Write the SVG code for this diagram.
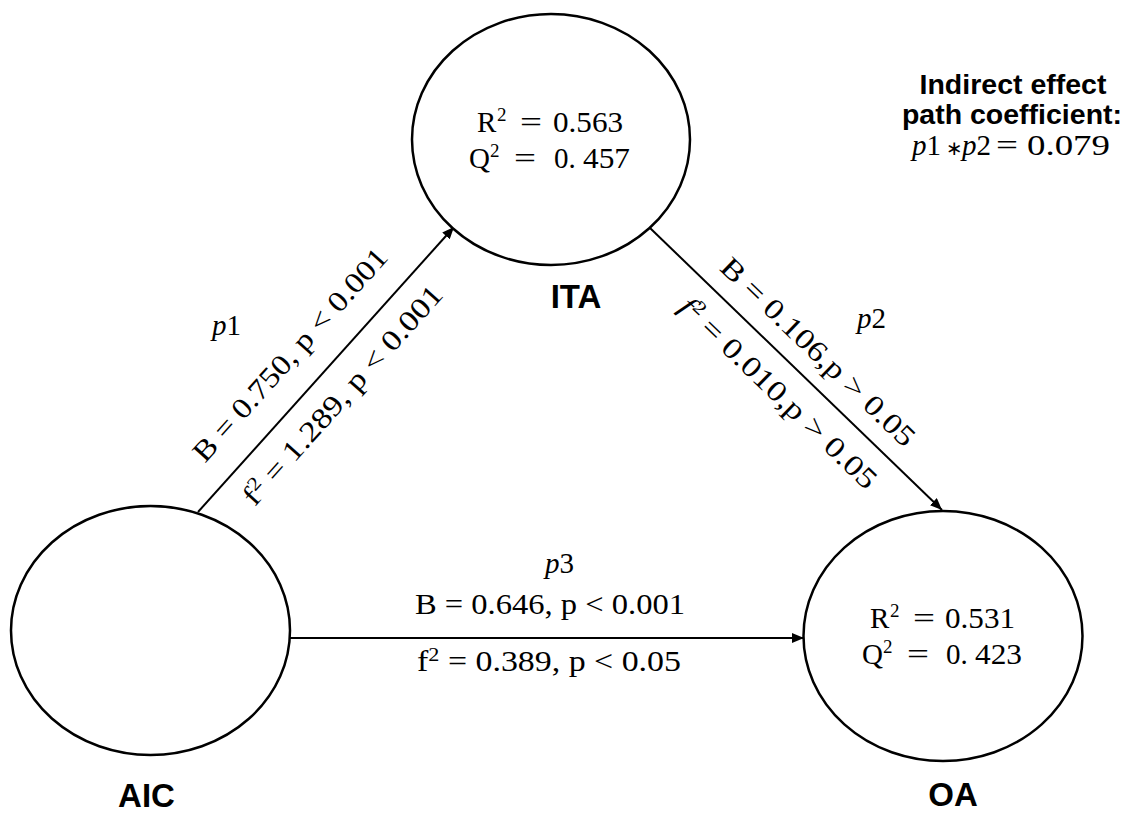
<svg xmlns="http://www.w3.org/2000/svg" width="1125" height="814" viewBox="0 0 1125 814">
<style>
.node{fill:#fff;stroke:#000;stroke-width:2.5}
.lbl{font-family:"Liberation Sans",Arial,sans-serif;font-weight:bold;font-size:33px;fill:#000;text-anchor:middle}
.hd{font-family:"Liberation Sans",Arial,sans-serif;font-weight:bold;font-size:28.5px;fill:#000;text-anchor:middle}
.m{font-family:"Liberation Serif","Times New Roman",serif;font-size:29px;fill:#000;text-anchor:middle}
.s{font-family:"Liberation Serif","Times New Roman",serif;font-size:29px;fill:#000}
.it{font-style:italic}
.sup{font-size:19px}
.conn{stroke:#000;stroke-width:2;fill:none;marker-end:url(#arr)}
</style>
<defs>
<marker id="arr" markerUnits="userSpaceOnUse" markerWidth="14" markerHeight="10" refX="12" refY="5" orient="auto">
<path d="M0,0 L12,5 L0,10 z" fill="#000"/>
</marker>
</defs>
<rect width="1125" height="814" fill="#fff"/>
<g id="connectors">
<line class="conn" x1="198" y1="512" x2="454" y2="227"/>
<line class="conn" x1="650" y1="228" x2="942" y2="510"/>
<line class="conn" x1="290" y1="638" x2="804" y2="638"/>
<g transform="translate(326,369.5) rotate(-48.07)">
<text class="m" x="-13" y="-27" textLength="276" lengthAdjust="spacingAndGlyphs">B = 0.750, p &lt; 0.001</text>
<text class="m" x="-8" y="39" textLength="284" lengthAdjust="spacingAndGlyphs">f<tspan class="sup" dy="-10">2</tspan><tspan dy="10"> = 1.289, p &lt; 0.001</tspan></text>
</g>
<text class="s" x="212" y="335"><tspan class="it">p</tspan>1</text>
<g transform="translate(796,369) rotate(43.99)">
<text class="m" x="4" y="-18" textLength="258" lengthAdjust="spacingAndGlyphs">B = 0.106,p &gt; 0.05</text>
<text class="m" x="4" y="39" textLength="262" lengthAdjust="spacingAndGlyphs"><tspan class="it">f</tspan><tspan class="sup" dy="-10">2</tspan><tspan dy="10"> = 0.010,p &gt; 0.05</tspan></text>
</g>
<text class="s" x="857" y="328"><tspan class="it">p</tspan>2</text>
<text class="s" x="545" y="573"><tspan class="it">p</tspan>3</text>
<text class="m" x="550" y="614" textLength="270" lengthAdjust="spacingAndGlyphs">B = 0.646, p &lt; 0.001</text>
<text class="m" x="549" y="671" textLength="264" lengthAdjust="spacingAndGlyphs">f<tspan class="sup" dy="-10">2</tspan><tspan dy="10"> = 0.389, p &lt; 0.05</tspan></text>
</g>
<g id="ITA">
<ellipse class="node" cx="551" cy="139.5" rx="139" ry="125.5"/>
<text class="s" x="477" y="132">R<tspan class="sup" x="497" dy="-11">2</tspan><tspan x="520" dy="11" textLength="22" lengthAdjust="spacingAndGlyphs">=</tspan><tspan x="553" textLength="70" lengthAdjust="spacingAndGlyphs">0.563</tspan></text>
<text class="s" x="469" y="168">Q<tspan class="sup" x="490" dy="-11">2</tspan><tspan x="514" dy="11" textLength="22" lengthAdjust="spacingAndGlyphs">=</tspan><tspan x="554">0.</tspan><tspan x="583" textLength="47" lengthAdjust="spacingAndGlyphs">457</tspan></text>
<text class="lbl" x="576" y="308">ITA</text>
</g>
<g id="AIC">
<ellipse class="node" cx="150.5" cy="630.5" rx="139.5" ry="124.5"/>
<text class="lbl" x="146.5" y="807">AIC</text>
</g>
<g id="OA">
<ellipse class="node" cx="943" cy="636" rx="139.5" ry="125"/>
<text class="s" x="870" y="628">R<tspan class="sup" x="890" dy="-11">2</tspan><tspan x="913" dy="11" textLength="22" lengthAdjust="spacingAndGlyphs">=</tspan><tspan x="945" textLength="70" lengthAdjust="spacingAndGlyphs">0.531</tspan></text>
<text class="s" x="862" y="664">Q<tspan class="sup" x="883" dy="-11">2</tspan><tspan x="907" dy="11" textLength="22" lengthAdjust="spacingAndGlyphs">=</tspan><tspan x="946">0.</tspan><tspan x="975" textLength="47" lengthAdjust="spacingAndGlyphs">423</tspan></text>
<text class="lbl" x="953" y="806">OA</text>
</g>
<g id="indirect">
<text class="hd" x="1013" y="94">Indirect effect</text>
<text class="hd" x="1012" y="124">path coefficient:</text>
<text class="s" x="912" y="155"><tspan class="it">p</tspan>1<tspan x="946" font-family="'DejaVu Sans',sans-serif" font-size="20">∗</tspan><tspan x="962" class="it">p</tspan>2<tspan x="996" textLength="22" lengthAdjust="spacingAndGlyphs">=</tspan><tspan x="1027" textLength="83" lengthAdjust="spacingAndGlyphs">0.079</tspan></text>
</g>
</svg>
